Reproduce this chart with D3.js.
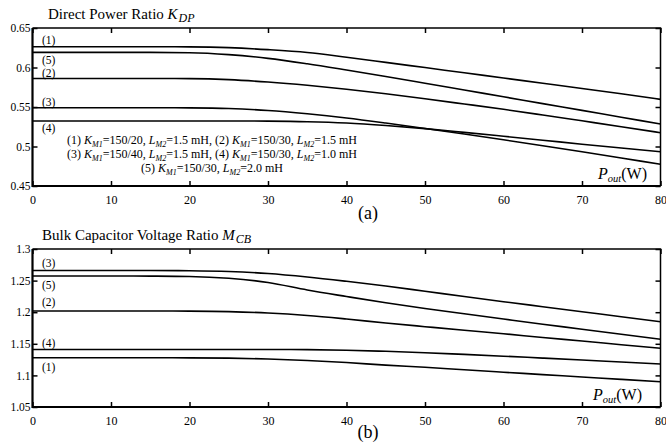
<!DOCTYPE html>
<html><head><meta charset="utf-8">
<script src="https://cdn.jsdelivr.net/npm/d3@7"></script>
<style>body{margin:0;background:#fff}svg{display:block}text{font-family:"Liberation Serif","Times New Roman",serif !important;fill:#000}</style>
</head><body><svg id="c" width="666" height="442"></svg>
<script>
// ---- data ----
const pout = [0,5,10,15,20,25,30,35,40,45,50,55,60,65,70,75,80];
const xTicks = [0,10,20,30,40,50,60,70,80];
// (a) Direct power ratio K_DP
const kdp1 = [0.6263,0.6263,0.6263,0.6263,0.6261,0.6251,0.6226,0.6190,0.6130,0.6065,0.5999,0.5933,0.5867,0.5801,0.5735,0.5667,0.5597];
const kdp2 = [0.5861,0.5861,0.5861,0.5861,0.5859,0.5846,0.5816,0.5775,0.5725,0.5667,0.5604,0.5538,0.5471,0.5399,0.5325,0.5251,0.5175];
const kdp3 = [0.5491,0.5491,0.5491,0.5491,0.5489,0.5481,0.5456,0.5414,0.5361,0.5297,0.5228,0.5158,0.5085,0.5010,0.4933,0.4854,0.4775];
const kdp4 = [0.5323,0.5323,0.5323,0.5323,0.5323,0.5323,0.5321,0.5314,0.5297,0.5266,0.5226,0.5179,0.5130,0.5080,0.5029,0.4981,0.4934];
const kdp5 = [0.6192,0.6192,0.6192,0.6191,0.6187,0.6163,0.6116,0.6047,0.5968,0.5886,0.5801,0.5715,0.5629,0.5543,0.5457,0.5371,0.5285];
const kdpTicks = [0.45,0.5,0.55,0.6,0.65];
const kdpTickLabels = ["0.45","0.5","0.55","0.6","0.65"];
// (b) Bulk capacitor voltage ratio M_CB
const mcb1 = [1.1280,1.1280,1.1280,1.1280,1.1278,1.1273,1.1260,1.1236,1.1204,1.1162,1.1129,1.1089,1.1051,1.1013,1.0975,1.0937,1.0900];
const mcb2 = [1.2019,1.2019,1.2019,1.2019,1.2017,1.2009,1.1987,1.1948,1.1892,1.1829,1.1771,1.1714,1.1659,1.1600,1.1544,1.1486,1.1429];
const mcb3 = [1.2660,1.2660,1.2660,1.2660,1.2657,1.2645,1.2612,1.2557,1.2489,1.2415,1.2332,1.2248,1.2166,1.2087,1.2008,1.1929,1.1850];
const mcb4 = [1.1410,1.1410,1.1410,1.1410,1.1410,1.1410,1.1410,1.1408,1.1399,1.1381,1.1359,1.1332,1.1304,1.1274,1.1244,1.1212,1.1180];
const mcb5 = [1.2573,1.2573,1.2573,1.2571,1.2565,1.2536,1.2470,1.2351,1.2248,1.2149,1.2059,1.1975,1.1892,1.1810,1.1731,1.1650,1.1571];
const mcbTicks = [1.05,1.1,1.15,1.2,1.25,1.3];
const mcbTickLabels = ["1.05","1.1","1.15","1.2","1.25","1.3"];
// curve labels: [label, value at left]
const kdpLabels = [["(1)",0.6348],["(5)",0.6090],["(2)",0.5935],["(3)",0.5563],["(4)",0.5234]];
const mcbLabels = [["(3)",1.2778],["(5)",1.2430],["(2)",1.2166],["(4)",1.1513],["(1)",1.1138]];
const legendLines = [
  [["(1) ",""],["K","i"],["M1","s"],["=150/20, ",""],["L","i"],["M2","s"],["=1.5 mH, (2) ",""],["K","i"],["M1","s"],["=150/30, ",""],["L","i"],["M2","s"],["=1.5 mH",""]],
  [["(3) ",""],["K","i"],["M1","s"],["=150/40, ",""],["L","i"],["M2","s"],["=1.5 mH, (4) ",""],["K","i"],["M1","s"],["=150/30, ",""],["L","i"],["M2","s"],["=1.0 mH",""]],
  [["(5) ",""],["K","i"],["M1","s"],["=150/30, ",""],["L","i"],["M2","s"],["=2.0 mH",""]]
];

const svg = d3.select("#c");
const X0 = 32.5, X1 = 660.5;
const FF = "Liberation Serif";

function panel(cfg){
  const g = svg.append("g");
  const x = d3.scaleLinear().domain([0,80]).range([X0,X1]);
  const y = d3.scaleLinear().domain(cfg.domain).range([cfg.bottom,cfg.top]);
  const line = d3.line().x((d,i)=>x(pout[i])).y(d=>y(d)).curve(d3.curveMonotoneX);
  cfg.series.forEach(s=>{
    g.append("path").attr("d",line(s)).attr("fill","none").attr("stroke","#000").attr("stroke-width",1.6);
  });
  const tk = 5;
  g.append("g").attr("transform",`translate(0,${cfg.bottom})`)
    .call(d3.axisBottom(x).tickValues(xTicks).tickSize(-tk).tickPadding(tk+4).tickFormat(d3.format("d")))
    .call(a=>{a.attr("font-family",FF);a.select(".domain").remove();a.selectAll("text").attr("font-size",12);a.selectAll("line").attr("stroke-width",1.5);});
  g.append("g").attr("transform",`translate(0,${cfg.top})`)
    .call(d3.axisTop(x).tickValues(xTicks).tickSize(-tk).tickFormat(""))
    .call(a=>{a.select(".domain").remove();a.selectAll("line").attr("stroke-width",1.5);});
  g.append("g").attr("transform",`translate(${X0},0)`)
    .call(d3.axisLeft(y).tickValues(cfg.ticks).tickSize(-tk).tickPadding(2).tickFormat((d,i)=>cfg.tickLabels[i]))
    .call(a=>{a.attr("font-family",FF);a.select(".domain").remove();a.selectAll("text").attr("font-size",11.5);a.selectAll("line").attr("stroke-width",1.5);});
  g.append("g").attr("transform",`translate(${X1},0)`)
    .call(d3.axisRight(y).tickValues(cfg.ticks).tickSize(-tk).tickFormat(""))
    .call(a=>{a.select(".domain").remove();a.selectAll("line").attr("stroke-width",1.5);});
  g.append("path").attr("d",`M${X0},${cfg.top}H${X1}V${cfg.bottom}`).attr("fill","none").attr("stroke","#000").attr("stroke-width",1.5);
  g.append("path").attr("d",`M${X0},${cfg.top}V${cfg.bottom}H${X1}`).attr("fill","none").attr("stroke","#000").attr("stroke-width",2.2);
  cfg.labels.forEach(([t,v])=>{
    g.append("text").attr("x",x(1.2)).attr("y",y(v)).attr("dy","0.35em").attr("font-size",11.5).text(t);
  });
  const tt = g.append("text").attr("x",cfg.titleX).attr("y",cfg.top-9).attr("font-size",15);
  tt.append("tspan").text(cfg.title+" ");
  tt.append("tspan").attr("font-style","italic").text(cfg.sym[0]);
  tt.append("tspan").attr("font-style","italic").attr("font-size",12).attr("dx",1).attr("dy",3).text(cfg.sym[1]);
  const pt = g.append("text").attr("x",cfg.pX).attr("y",cfg.bottom-7).attr("font-size",16);
  pt.append("tspan").attr("font-style","italic").text("P");
  pt.append("tspan").attr("font-style","italic").attr("font-size",10.5).attr("dy",3).text("out");
  pt.append("tspan").attr("dy",-3).text("(W)");
  g.append("text").attr("x",368).attr("y",cfg.tagY).attr("text-anchor","middle").attr("font-size",18).text(cfg.tag);
  return {g,x,y};
}

const A = panel({domain:[0.45,0.65],top:28,bottom:186,series:[kdp1,kdp2,kdp3,kdp4,kdp5],ticks:kdpTicks,tickLabels:kdpTickLabels,
  labels:kdpLabels,title:"Direct Power Ratio",sym:["K","DP"],titleX:48,pX:598,tag:"(a)",tagY:219});
const B = panel({domain:[1.05,1.3],top:249,bottom:407,series:[mcb1,mcb2,mcb3,mcb4,mcb5],ticks:mcbTicks,tickLabels:mcbTickLabels,
  labels:mcbLabels,title:"Bulk Capacitor Voltage Ratio",sym:["M","CB"],titleX:42,pX:593,tag:"(b)",tagY:438});

const legY = [144,158,172];
legendLines.forEach((parts,li)=>{
  const t = A.g.append("text").attr("x",212).attr("y",legY[li]).attr("text-anchor","middle").attr("font-size",12);
  let sub=false;
  parts.forEach(([s,k])=>{
    const sp = t.append("tspan").text(s);
    if(k==="i") sp.attr("font-style","italic");
    if(k==="s"){ sp.attr("font-style","italic").attr("font-size",8).attr("dy",2.5); sub=true; }
    else if(sub){ sp.attr("dy",-2.5); sub=false; }
  });
});
</script></body></html>
